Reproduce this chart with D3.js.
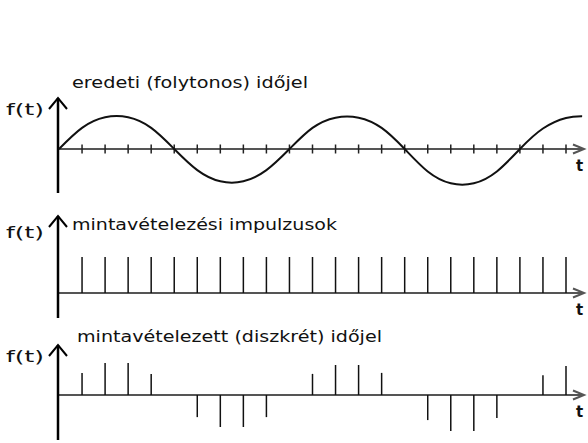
<!DOCTYPE html>
<html>
<head>
<meta charset="utf-8">
<script src="https://cdn.jsdelivr.net/npm/d3@7"></script>
<style>
  body { margin: 0; background: #fff; }
  text { font-family: "DejaVu Sans", sans-serif; fill: #111; }
</style>
</head>
<body>
<svg id="chart" width="588" height="443"></svg>
<script>
// sample index positions on the time axis
const steps = [1, 2, 3, 4, 5, 6, 7, 8, 9, 10, 11, 12, 13, 14, 15, 16, 17, 18, 19, 20, 21, 22];

// continuous signal read at each step (plus the end of the curve)
const curveT = [0, 1, 2, 3, 4, 5, 6, 7, 8, 9, 10, 11, 12, 13, 14, 15, 16, 17, 18, 19, 20, 21, 22, 22.7];
const curveV = [0, 0.64, 0.96, 0.96, 0.64, 0, -0.64, -0.98, -0.98, -0.64, 0, 0.64, 0.95, 0.95, 0.64, 0, -0.68, -1.04, -1.04, -0.68, 0, 0.62, 0.94, 0.99];

// sampling impulses (all unit height)
const impulses = [1, 1, 1, 1, 1, 1, 1, 1, 1, 1, 1, 1, 1, 1, 1, 1, 1, 1, 1, 1, 1, 1];

// sampled (discrete) signal
const samples = [0.67, 0.97, 0.97, 0.64, 0, -0.67, -0.97, -0.97, -0.67, 0, 0.64, 0.91, 0.91, 0.67, 0, -0.76, -1.09, -1.09, -0.7, 0, 0.6, 0.88];

const titles = ["eredeti (folytonos) időjel", "mintavételezési impulzusok", "mintavételezett (diszkrét) időjel"];

const svg = d3.select("#chart");
const x = d3.scaleLinear().domain([0, 22]).range([59, 566]);
const xEnd = 584;
const axisX = 58;

const panels = [
      { top: 98, bottom: 193, base: 149, title: [72, 88, 236], ft: 115 },
      { top: 216, bottom: 318, base: 293, title: [72, 230, 265], ft: 238 },
      { top: 345, bottom: 440, base: 395, title: [77, 342, 305], ft: 362 }
];

panels.forEach((p, i) => {
      const g = svg.append("g");

      // time axis + arrow
      g.append("line")
            .attr("x1", axisX).attr("x2", xEnd)
            .attr("y1", p.base).attr("y2", p.base)
            .attr("stroke", "#555").attr("stroke-width", 2);
      g.append("path")
            .attr("d", `M${xEnd - 11},${p.base - 4.5} L${xEnd},${p.base} L${xEnd - 11},${p.base + 4.5}`)
            .attr("fill", "none").attr("stroke", "#555").attr("stroke-width", 2);

      // f(t) axis + arrow
      g.append("line")
            .attr("x1", axisX).attr("x2", axisX)
            .attr("y1", p.top).attr("y2", p.bottom)
            .attr("stroke", "#000").attr("stroke-width", 2.5);
      g.append("path")
            .attr("d", `M${axisX - 9},${p.top + 11} L${axisX},${p.top} L${axisX + 9},${p.top + 11}`)
            .attr("fill", "none").attr("stroke", "#000").attr("stroke-width", 2);

      g.append("text")
            .attr("x", 6).attr("y", p.ft)
            .attr("font-size", 15)
            .attr("textLength", 38).attr("lengthAdjust", "spacingAndGlyphs")
            .text("f(t)");

      g.append("text")
            .attr("x", 576).attr("y", p.base + 22)
            .attr("font-size", 15).attr("font-weight", "bold")
            .text("t");

      g.append("text")
            .attr("x", p.title[0]).attr("y", p.title[1])
            .attr("font-size", 15)
            .attr("textLength", p.title[2]).attr("lengthAdjust", "spacingAndGlyphs")
            .text(titles[i]);

      p.g = g;
});

// panel 1: continuous signal with ticks
const y1 = d3.scaleLinear().domain([-1, 1]).range([panels[0].base + 33, panels[0].base - 33]);
panels[0].g.selectAll(".tick")
      .data(steps)
      .join("line")
      .attr("x1", d => x(d)).attr("x2", d => x(d))
      .attr("y1", panels[0].base - 4.5).attr("y2", panels[0].base + 4.5)
      .attr("stroke", "#222").attr("stroke-width", 1.5);

panels[0].g.append("path")
      .datum(curveT.map((t, i) => [t, curveV[i]]))
      .attr("fill", "none")
      .attr("stroke", "#111")
      .attr("stroke-width", 2)
      .attr("d", d3.line()
            .x(d => x(d[0]))
            .y(d => y1(d[1]))
            .curve(d3.curveNatural));

// panel 2: impulses
const y2 = d3.scaleLinear().domain([0, 1]).range([panels[1].base, panels[1].base - 36]);
panels[1].g.selectAll(".imp")
      .data(impulses)
      .join("line")
      .attr("x1", (d, i) => x(steps[i])).attr("x2", (d, i) => x(steps[i]))
      .attr("y1", y2(0)).attr("y2", d => y2(d))
      .attr("stroke", "#111").attr("stroke-width", 1.5);

// panel 3: sampled signal (zero samples leave no line)
const y3 = d3.scaleLinear().domain([-1, 1]).range([panels[2].base + 33, panels[2].base - 33]);
panels[2].g.selectAll(".smp")
      .data(samples.map((v, i) => ({ t: steps[i], v: v })).filter(d => d.v != 0))
      .join("line")
      .attr("x1", d => x(d.t)).attr("x2", d => x(d.t))
      .attr("y1", y3(0)).attr("y2", d => y3(d.v))
      .attr("stroke", "#111").attr("stroke-width", 1.5);
</script>
</body>
</html>
